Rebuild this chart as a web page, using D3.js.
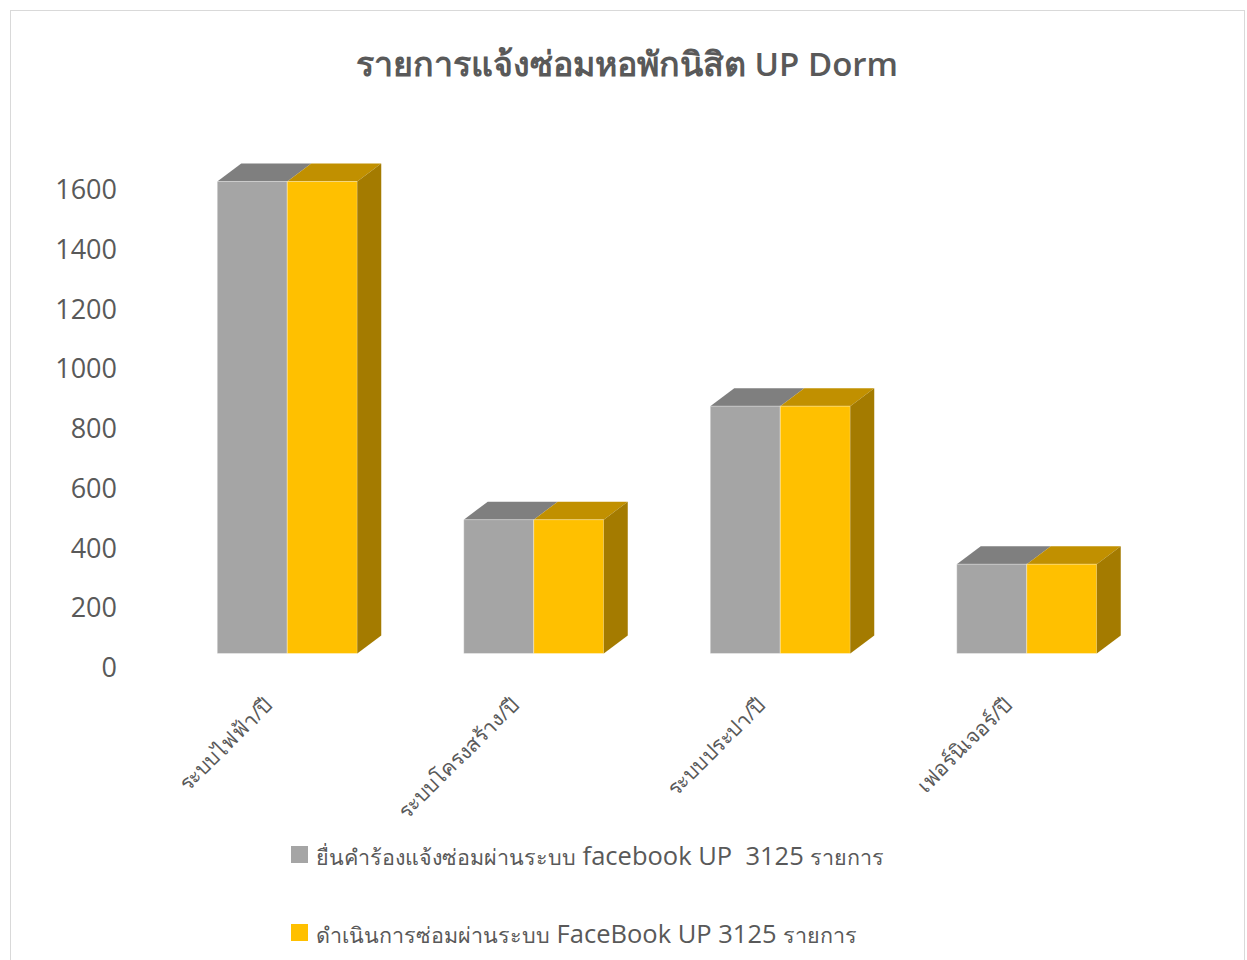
<!DOCTYPE html>
<html>
<head>
<meta charset="utf-8">
<script src="https://cdn.jsdelivr.net/npm/d3@7"></script>
<style>
  body { margin: 0; background: #fff; }
  svg text { font-family: "Open Sans", "Noto Sans", sans-serif; fill: #595959; white-space: pre; }
</style>
</head>
<body>
<div id="chart"></div>
<script>
// values
const categories = ['ระบบไฟฟ้า/ปี', 'ระบบโครงสร้าง/ปี', 'ระบบประปา/ปี', 'เฟอร์นิเจอร์/ปี'];
const requested = [1580, 448, 828, 299];
const completed = [1580, 448, 828, 299];
const seriesNames = ['ยื่นคำร้องแจ้งซ่อมผ่านระบบ facebook UP  3125 รายการ', 'ดำเนินการซ่อมผ่านระบบ FaceBook UP 3125 รายการ'];
const yTicks = [0, 200, 400, 600, 800, 1000, 1200, 1400, 1600];
const titleText = 'รายการแจ้งซ่อมหอพักนิสิต UP Dorm';

const W = 1247, H = 960;
const front = ['#a5a5a5', '#ffc000'];
const top_ = ['#7f7f7f', '#c19000'];
const side = '#a47b00';
const depthX = 24, depthY = 18, floor = 14.5;

let svg = d3.select('#chart').append('svg')
    .attr('width', W).attr('height', H);

svg.append('rect')
    .attr('x', 10.5).attr('y', 10.5)
    .attr('width', W - 13).attr('height', H)
    .attr('fill', '#fff').attr('stroke', '#d9d9d9');

// split thai / latin runs so they get different sizes, like the original
function addRuns(textSel, str, thaiSize, latinSize, thaiWeight, latinWeight){
    str.split(/([\u0E00-\u0E7F]+)/).filter(s => s.length).forEach(s => {
        let isThai = /[\u0E00-\u0E7F]/.test(s);
        textSel.append('tspan')
            .style('font-size', (isThai ? thaiSize : latinSize) + 'px')
            .style('font-weight', isThai ? thaiWeight : latinWeight)
            .text(s);
    });
}

let title = svg.append('text')
    .attr('x', 627).attr('y', 76)
    .attr('text-anchor', 'middle');
addRuns(title, titleText, 34, 33, 'bold', '600');

let x = d3.scaleBand()
    .domain(categories)
    .range([164, 1150])
    .paddingInner(0.432)
    .paddingOuter(0.216);

let xs = d3.scaleBand()
    .domain([0, 1])
    .range([0, x.bandwidth()]);

let y = d3.scaleLinear()
    .domain([0, 1600])
    .range([668, 190]);

let yAxis = svg.append('g')
    .attr('transform', 'translate(117,0)')
    .call(d3.axisLeft(y).tickValues(yTicks).tickFormat(d3.format('d')).tickSize(0).tickPadding(0));
yAxis.select('.domain').remove();
yAxis.selectAll('text')
    .style('font-size', '27px')
    .attr('fill', '#595959')
    .style('font-family', '"Open Sans", sans-serif');

let data = categories.map((c, i) => ({cat: c, vals: [requested[i], completed[i]]}));

let bars = svg.append('g').attr('transform', `translate(0,${-floor})`);

data.forEach(d => {
    let g = bars.append('g');
    d.vals.forEach((v, s) => {
        let x0 = x(d.cat) + xs(s), x1 = x0 + xs.bandwidth();
        let yt = y(v), yb = y(0);
        g.append('polygon')
            .attr('points', [[x0, yt], [x1, yt], [x1 + depthX, yt - depthY], [x0 + depthX, yt - depthY]].join(' '))
            .attr('fill', top_[s]);
        g.append('rect')
            .attr('x', x0).attr('y', yt)
            .attr('width', x1 - x0).attr('height', yb - yt)
            .attr('fill', front[s])
            .attr('stroke', 'rgba(255,255,255,0.35)').attr('stroke-width', 1);
        if (s === d.vals.length - 1) {
            g.append('polygon')
                .attr('points', [[x1, yt], [x1 + depthX, yt - depthY], [x1 + depthX, yb - depthY], [x1, yb]].join(' '))
                .attr('fill', side);
        }
    });
});

// category labels, rotated
svg.append('g').selectAll('text')
    .data(categories)
    .join('text')
    .attr('transform', c => `translate(${x(c) + x.bandwidth() / 2 - 24},${696}) rotate(-45)`)
    .attr('text-anchor', 'end')
    .attr('dy', '0.7em')
    .style('font-size', '21px')
    .text(c => c);

// legend
let legend = svg.append('g');
seriesNames.forEach((name, i) => {
    let ly = 846 + i * 78;
    legend.append('rect')
        .attr('x', 291).attr('y', ly)
        .attr('width', 17).attr('height', 17)
        .attr('fill', front[i]);
    let t = legend.append('text')
        .attr('x', 316).attr('y', ly + 19);
    addRuns(t, name, 21.5, 25.5, 'normal', 'normal');
});
</script>
</body>
</html>
